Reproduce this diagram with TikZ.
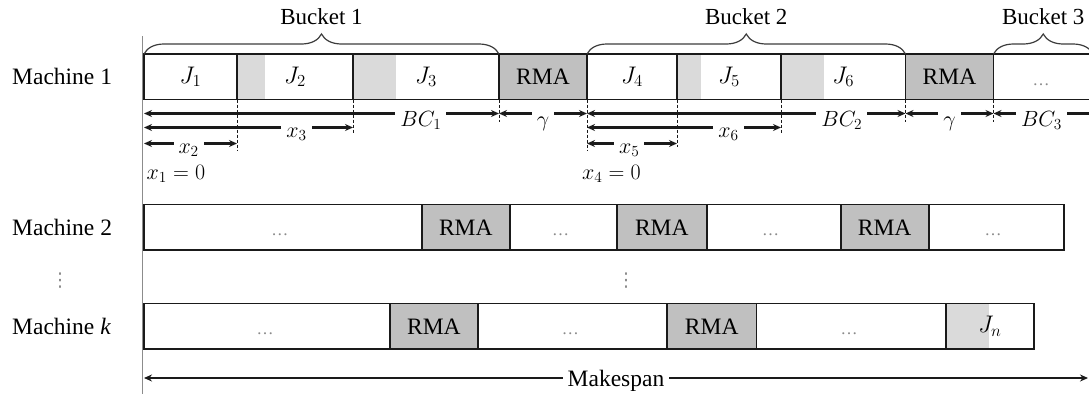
\RequirePackage{fix-cm}
\documentclass[tikz,border=0pt]{standalone}
\usepackage{fontspec}
\setmainfont{Liberation Serif}
\newfontfamily\symbolfamily{DejaVu Sans}
\usetikzlibrary{arrows.meta,decorations.pathreplacing,backgrounds}

\definecolor{rmafill}{HTML}{C0C0C0}
\definecolor{setupfill}{HTML}{DADADA}
\definecolor{axisline}{HTML}{8C8C8C}
\definecolor{ellipsisgray}{HTML}{8A8A8A}
\definecolor{ink}{HTML}{1A1A1A}

\begin{document}
\begin{tikzpicture}[x=1pt,y=-1pt,
  cell/.style={draw=ink, line width=1.8pt, inner sep=0pt, outer sep=0pt,
    anchor=north west, minimum height=45.5pt, font=\fontsize{24}{28}\selectfont},
  rmacell/.style={cell, fill=rmafill, font=\fontsize{23.5}{28}\selectfont},
  gap/.style={text=ellipsisgray, font=\fontsize{17}{20}\selectfont, inner sep=0pt, anchor=base},
  vgap/.style={text=ellipsisgray, font=\symbolfamily\fontsize{19}{20}\selectfont, inner sep=0pt},
  machine/.style={anchor=west, inner sep=0pt, font=\fontsize{23.5}{28}\selectfont},
  bucket/.style={inner sep=0pt, font=\fontsize{23}{28}\selectfont},
  bracket/.style={decorate, decoration={brace, amplitude=20pt}, line width=1.2pt, draw=ink!85},
  dim/.style={{Stealth[length=8pt,width=7pt]}-{Stealth[length=8pt,width=7pt]}, line width=2.5pt, draw=ink},
  dimopen/.style={{Stealth[length=8pt,width=7pt]}-, line width=2.5pt, draw=ink},
  labelbox/.style={fill=white, inner xsep=5pt, inner ysep=1pt, text height=16pt,
    anchor=base, font=\fontsize{22}{26}\selectfont},
  dimlabel/.style={labelbox, text depth=4pt, yshift=-12.5pt},
  xlabel/.style={labelbox, text depth=2pt, yshift=-10pt},
  zerolabel/.style={anchor=base west, inner sep=0pt, font=\fontsize{22}{26}\selectfont},
  guide/.style={draw=ink, line width=0.9pt, dash pattern=on 3pt off 2pt},
  axis/.style={draw=axisline, line width=1.5pt},
  spanlabel/.style={fill=white, inner xsep=5pt, inner ysep=1pt, text height=16pt, text depth=5pt,
    anchor=base, yshift=-8.5pt, font=\fontsize{23.5}{28}\selectfont},
]
\useasboundingbox (0,0) rectangle (1089,394);

% time axis
\coordinate (axtop) at (142.7,36);
\coordinate (axbot) at (142.7,394);
\draw[axis] (axtop) -- (axbot);

% machine names
\node[machine] (mach1) at (12,76.75) {Machine 1};
\node[machine] (mach2) at (12,227.25) {Machine 2};
\node[machine] (machk) at (12,326.25) {Machine \textit{k}};
\node[vgap] (vd1) at (60,281) {⋮};
\node[vgap] (vd2) at (626,281) {⋮};

% machine 1
\node[cell, minimum width=93pt]    (j1)  at (144,54)         {$J_1$};
\node[cell, minimum width=116pt]   (j2)  at (j1.north east)  {$J_2$};
\node[cell, minimum width=146pt]   (j3)  at (j2.north east)  {$J_3$};
\node[rmacell, minimum width=88pt] (r11) at (j3.north east)  {RMA};
\node[cell, minimum width=90pt]    (j4)  at (r11.north east) {$J_4$};
\node[cell, minimum width=104pt]   (j5)  at (j4.north east)  {$J_5$};
\node[cell, minimum width=124.5pt] (j6)  at (j5.north east)  {$J_6$};
\node[rmacell, minimum width=88pt] (r12) at (j6.north east)  {RMA};
\node[cell, minimum width=120pt]   (m1x) at (r12.north east) {};
\node[gap] (m1xd) at (1041,85) {\textellipsis};

% machine 2
\node[cell, minimum width=277.6pt] (m2a)  at (144,204.5)       {};
\node[rmacell, minimum width=88.4pt] (m2r1) at (m2a.north east)  {RMA};
\node[cell, minimum width=107pt]   (m2b)  at (m2r1.north east) {};
\node[rmacell, minimum width=89.6pt] (m2r2) at (m2b.north east)  {RMA};
\node[cell, minimum width=134pt]   (m2c)  at (m2r2.north east) {};
\node[rmacell, minimum width=88pt] (m2r3) at (m2c.north east)  {RMA};
\node[cell, minimum width=135.1pt] (m2d)  at (m2r3.north east) {};
\foreach \c in {m2a,m2b,m2c,m2d}
  \node[gap] (\c dots) at ([xshift=-3pt,yshift=-8pt]\c.center) {\textellipsis};

% machine k
\node[cell, minimum width=246pt]   (mka)  at (144,303.5)       {};
\node[rmacell, minimum width=87.7pt] (mkr1) at (mka.north east)  {RMA};
\node[cell, minimum width=189.3pt] (mkb)  at (mkr1.north east) {};
\node[rmacell, minimum width=89.4pt] (mkr2) at (mkb.north east)  {RMA};
\node[cell, minimum width=189.4pt] (mkc)  at (mkr2.north east) {};
\node[cell, minimum width=88.2pt]  (jn)   at (mkc.north east)  {$J_n$};
\foreach \c in {mka,mkb,mkc}
  \node[gap] (\c dots) at ([xshift=-2pt,yshift=-8pt]\c.center) {\textellipsis};

% set-up portions at the start of jobs
\begin{scope}[on background layer]
  \fill[setupfill] (j2.north west) rectangle ([xshift=28pt]j2.south west);
  \fill[setupfill] (j3.north west) rectangle ([xshift=43pt]j3.south west);
  \fill[setupfill] (j5.north west) rectangle ([xshift=24pt]j5.south west);
  \fill[setupfill] (j6.north west) rectangle ([xshift=43pt]j6.south west);
  \fill[setupfill] (jn.north west) rectangle ([xshift=43pt]jn.south west);
\end{scope}

% buckets
\coordinate (b3end) at (1093,54);
\draw[bracket] (j1.north west) -- (j3.north east);
\draw[bracket] (j4.north west) -- (j6.north east);
\draw[bracket] (m1x.north west) -- (b3end);
\path (j1.north west) -- (j3.north east) node[bucket, pos=.5, yshift=37pt] (bk1) {Bucket 1};
\path (j4.north west) -- (j6.north east) node[bucket, pos=.5, yshift=37pt] (bk2) {Bucket 2};
\path (m1x.north west) -- (b3end) node[bucket, pos=.5, yshift=37pt] (bk3) {Bucket 3};

% guide lines
\coordinate (g150) at (0,150);
\coordinate (g147) at (0,146.7);
\coordinate (g133) at (0,133.3);
\coordinate (g122) at (0,121.7);
\draw[guide] (j1.south east) -- (j1.south east |- g150);
\draw[guide] (j2.south east) -- (j2.south east |- g133);
\draw[guide] (j3.south east) -- (j3.south east |- g122);
\draw[guide] (j4.south west) -- (j4.south west |- g150);
\draw[guide] (j4.south east) -- (j4.south east |- g147);
\draw[guide] (j5.south east) -- (j5.south east |- g133);
\draw[guide] (j6.south east) -- (j6.south east |- g122);
\draw[guide] (r12.south east) -- (r12.south east |- g122);

% bucket capacities, maintenance and start times
\coordinate (ybc) at (0,113.5);
\coordinate (yx3) at (0,127.5);
\coordinate (yx2) at (0,143.5);
\draw[dim] (j1.south west |- ybc) -- node[dimlabel, pos=.78] (lbc1) {$BC_1$} (j3.south east |- ybc);
\draw[dim] (r11.south west |- ybc) -- node[dimlabel, pos=.5] (lg1) {$\gamma$} (r11.south east |- ybc);
\draw[dim] (j4.south west |- ybc) -- node[dimlabel, pos=.8] (lbc2) {$BC_2$} (j6.south east |- ybc);
\draw[dim] (r12.south west |- ybc) -- node[dimlabel, pos=.5] (lg2) {$\gamma$} (r12.south east |- ybc);
\draw[dimopen] (m1x.south west |- ybc) -- node[dimlabel, pos=.4] (lbc3) {$BC_3$} (m1x.south east |- ybc);
\draw[dim] (j1.south west |- yx3) -- node[xlabel, pos=.73] (lx3) {$x_3$} (j2.south east |- yx3);
\draw[dim] (j4.south west |- yx3) -- node[xlabel, pos=.73] (lx6) {$x_6$} (j5.south east |- yx3);
\draw[dim] (j1.south west |- yx2) -- node[xlabel, pos=.48] (lx2) {$x_2$} (j1.south east |- yx2);
\draw[dim] (j4.south west |- yx2) -- node[xlabel, pos=.47] (lx5) {$x_5$} (j4.south east |- yx2);
\node[zerolabel] (x1z) at (146.5,179) {$x_1 = 0$};
\node[zerolabel] (x4z) at (582,179) {$x_4 = 0$};

% makespan
\coordinate (yms) at (0,378);
\coordinate (msend) at (1088,378);
\draw[dim] (j1.south west |- yms) -- node[spanlabel, pos=.5] (lms) {Makespan} (msend);
\end{tikzpicture}
\end{document}
